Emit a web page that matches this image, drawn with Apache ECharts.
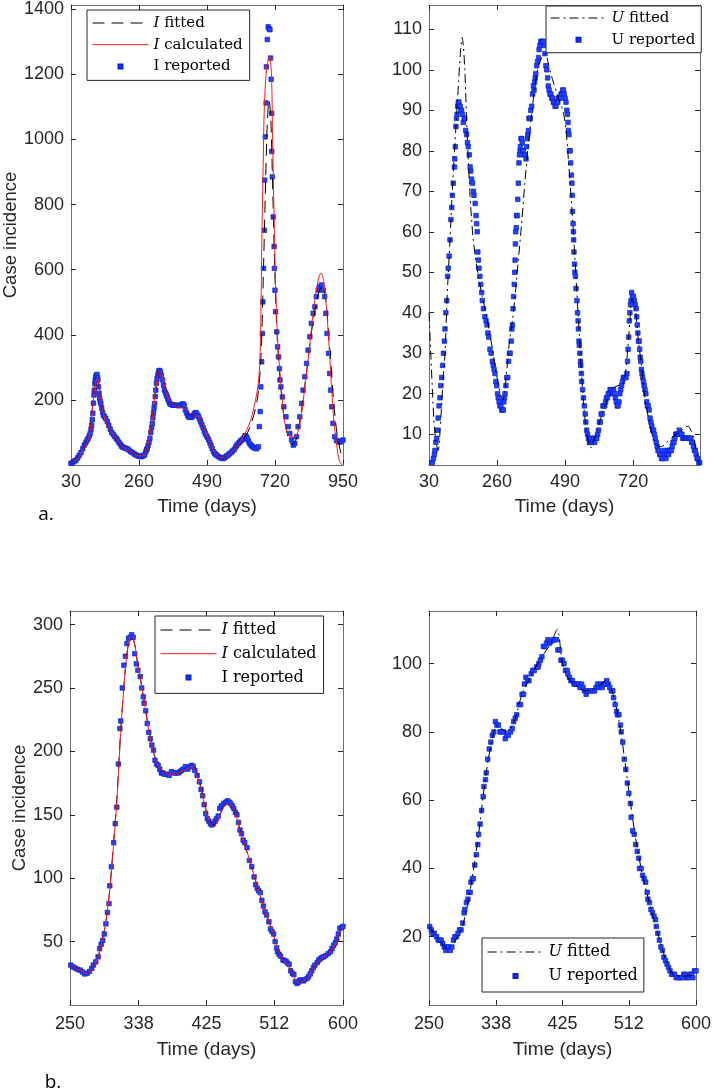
<!DOCTYPE html>
<html>
<head>
<meta charset="utf-8">
<script src="https://cdn.jsdelivr.net/npm/echarts@6/dist/echarts.min.js"></script>
<style>
  html, body { margin: 0; padding: 0; background: #fff; }
  #chart { width: 714px; height: 1092px; }
</style>
</head>
<body>
<div id="chart"></div>
<script>
// ---- data: [day, cases] ----
// panel a (left): infected
const aIReported = [[30,5],[36,8],[42,12],[47,15],[53,22],[58,30],[64,38],[70,50],[75,61],[80,68],[84,75],[88,82],[92,90],[95,97],[98,110],[100,123],[102,140],[104,159],[106,190],[108,215],[109,230],[111,250],[112,261],[114,270],[116,276],[118,278],[120,268],[121,261],[123,240],[125,220],[127,205],[129,195],[131,189],[134,175],[137,162],[140,152],[144,148],[148,142],[153,133],[158,122],[163,110],[168,100],[173,94],[178,88],[183,82],[187,77],[192,70],[197,64],[201,58],[205,55],[210,53],[215,51],[220,50],[226,46],[232,41],[238,38],[244,34],[249,31],[254,29],[260,27],[265,26],[270,26],[275,29],[279,31],[283,40],[286,47],[288,51],[291,60],[294,70],[297,82],[300,100],[303,115],[305,128],[307,145],[309,160],[311,175],[313,189],[315,210],[317,230],[319,251],[321,265],[324,276],[326,283],[328,290],[330,290],[333,286],[336,275],[340,261],[343,245],[346,230],[350,222],[353,215],[355,210],[358,203],[361,196],[364,189],[368,186],[373,184],[378,184],[383,184],[389,183],[395,182],[400,184],[405,186],[409,188],[413,183],[417,169],[421,160],[425,152],[428,148],[432,147],[436,146],[440,148],[444,153],[448,158],[451,161],[455,159],[459,153],[462,148],[466,140],[469,132],[473,123],[477,114],[481,105],[484,97],[488,90],[492,84],[496,77],[500,68],[504,59],[508,50],[512,41],[516,36],[520,32],[524,29],[529,26],[534,23],[539,21],[544,20],[549,22],[553,25],[557,28],[562,31],[567,35],[572,39],[577,43],[582,48],[587,55],[591,61],[596,66],[600,70],[604,74],[608,77],[612,80],[616,84],[619,90],[623,87],[626,82],[630,74],[634,66],[639,61],[643,57],[647,54],[653,51],[658,50],[664,56],[667,118],[670,164],[672,240],[675,317],[677,404],[679,501],[681,604],[684,721],[685,875],[687,1008],[690,1112],[691,1223],[694,1307],[697,1346],[700,1340],[703,1337],[705,1250],[707,1185],[709,1080],[709,963],[711,885],[714,762],[717,671],[718,604],[720,537],[722,471],[726,409],[729,363],[732,332],[735,296],[737,261],[740,240],[745,209],[750,179],[757,148],[765,118],[770,97],[776,77],[782,61],[787,66],[793,87],[798,118],[804,148],[810,189],[815,230],[821,271],[827,312],[832,353],[838,394],[843,435],[849,466],[855,486],[860,517],[866,537],[871,547],[877,553],[883,537],[888,517],[892,466],[896,404],[901,343],[905,281],[908,230],[912,179],[916,128],[922,87],[928,75],[934,72],[940,70],[946,74],[950,77]];
const aICalculated = [[30,5],[60,30],[90,85],[105,190],[113,255],[120,265],[130,205],[145,140],[160,110],[180,85],[200,60],[230,42],[260,28],[275,30],[290,60],[300,110],[310,180],[320,255],[330,288],[340,270],[350,230],[365,195],[390,180],[415,172],[430,160],[445,150],[460,150],[475,125],[495,80],[515,40],[540,22],[560,28],[590,55],[613,87],[636,133],[653,194],[664,255],[670,348],[673,506],[676,712],[680,917],[684,1100],[692,1223],[701,1254],[708,1203],[712,998],[717,762],[722,557],[728,404],[735,302],[743,220],[750,148],[759,107],[770,87],[787,87],[799,107],[810,158],[821,240],[832,322],[844,425],[855,506],[866,568],[875,590],[885,563],[894,486],[903,363],[911,240],[919,138],[928,66],[937,15],[946,0]];
const aIFitted = [[30,5],[60,32],[90,88],[105,195],[115,262],[122,258],[132,195],[145,140],[160,108],[180,83],[200,60],[230,42],[260,28],[275,30],[290,58],[300,108],[310,178],[320,252],[330,287],[340,270],[350,230],[365,196],[390,181],[415,172],[430,158],[445,150],[460,150],[475,124],[495,80],[515,40],[540,22],[560,28],[590,55],[620,88],[640,128],[660,200],[672,320],[680,560],[688,860],[694,1050],[700,1120],[706,1060],[712,860],[718,640],[726,420],[735,290],[748,165],[762,95],[778,62],[792,80],[810,170],[830,310],[850,450],[868,530],[880,550],[892,505],[905,360],[918,200],[930,95],[942,40],[948,20]];

// panel a (right): U
const aUReported = [[41,3],[45,4],[48,5],[50,6],[53,8],[56,9],[58,11],[61,14],[64,17],[67,19],[70,22],[73,24],[76,27],[79,30],[82,33],[84,36],[87,40],[90,43],[93,49],[95,51],[98,54],[101,58],[104,63],[107,66],[109,69],[112,72],[116,76],[117,78],[119,81],[121,86],[123,88],[125,89],[127,91],[129,92],[131,92],[133,91],[135,91],[138,90],[140,90],[143,89],[146,87],[149,88],[151,88],[154,85],[157,84],[160,82],[163,81],[166,79],[169,76],[171,75],[174,73],[177,72],[180,70],[182,69],[186,67],[189,64],[191,62],[193,60],[195,55],[197,53],[199,51],[202,49],[205,47],[208,45],[210,43],[214,41],[219,39],[223,38],[226,37],[229,35],[232,34],[236,31],[240,30],[244,28],[247,27],[250,26],[253,25],[256,23],[259,22],[262,20],[264,19],[267,18],[270,17],[273,17],[276,16],[279,16],[281,16],[283,18],[285,19],[287,20],[290,22],[293,24],[296,24],[299,28],[302,30],[304,30],[308,33],[310,36],[312,37],[314,41],[316,44],[318,47],[320,50],[321,53],[322,57],[323,60],[325,61],[326,64],[328,64],[330,68],[332,72],[334,77],[336,79],[338,80],[339,81],[341,83],[343,83],[345,82],[347,80],[349,80],[352,79],[355,79],[358,78],[360,81],[362,83],[364,84],[366,85],[368,88],[370,88],[372,88],[374,90],[377,91],[380,94],[383,96],[385,95],[387,97],[389,98],[391,99],[394,101],[397,102],[400,103],[402,105],[405,106],[408,107],[411,107],[414,107],[417,107],[420,106],[422,104],[425,101],[428,100],[431,98],[433,96],[436,95],[439,94],[442,94],[445,93],[448,93],[450,92],[453,92],[456,91],[459,91],[462,92],[465,92],[467,93],[470,93],[473,93],[476,94],[479,94],[482,95],[484,95],[487,94],[490,93],[493,92],[496,90],[498,89],[500,87],[501,85],[503,84],[505,80],[507,80],[509,77],[511,74],[513,72],[514,69],[515,65],[517,62],[518,60],[519,58],[520,55],[522,52],[523,50],[525,49],[527,46],[530,43],[532,40],[534,38],[535,36],[537,33],[538,32],[540,30],[542,28],[543,27],[545,25],[546,23],[549,21],[552,19],[555,17],[558,15],[560,13],[563,11],[566,10],[569,9],[572,8],[575,8],[578,9],[581,8],[584,8],[587,9],[590,8],[593,9],[597,9],[600,10],[603,11],[606,13],[609,13],[612,15],[615,15],[618,17],[621,17],[624,17],[627,18],[630,19],[633,19],[636,20],[639,20],[642,21],[645,21],[648,21],[651,20],[654,21],[657,20],[660,19],[663,18],[666,17],[669,17],[672,18],[675,20],[678,21],[681,22],[684,23],[687,24],[690,24],[693,24],[696,24],[699,25],[701,28],[703,31],[705,34],[707,38],[709,40],[711,42],[713,43],[715,45],[718,44],[721,44],[724,43],[727,42],[730,41],[732,39],[734,37],[736,35],[738,33],[740,33],[742,31],[744,29],[746,28],[748,26],[750,25],[752,24],[755,23],[757,22],[760,21],[763,20],[766,18],[768,17],[771,17],[774,16],[777,14],[780,13],[783,12],[786,11],[789,11],[792,10],[795,9],[798,8],[801,7],[804,6],[807,6],[810,5],[813,5],[816,4],[819,4],[822,5],[825,6],[828,5],[831,4],[834,5],[837,6],[840,5],[843,6],[846,6],[849,6],[852,7],[855,8],[858,8],[861,9],[864,10],[867,10],[870,10],[873,10],[876,11],[879,10],[882,10],[885,10],[888,9],[891,9],[894,9],[897,9],[900,9],[903,9],[906,9],[909,9],[912,9],[915,9],[918,8],[921,8],[924,7],[927,6],[930,6],[933,5],[936,4],[939,4],[942,3],[945,3]];
const aUFitted = [[30,40],[36,30],[42,20],[48,12],[54,8],[61,6],[70,14],[78,24],[84,30],[92,45],[101,58],[110,72],[118,82],[125,91],[130,97],[136,104],[142,108],[146,106],[151,100],[156,90],[160,82],[164,76],[168,70],[174,63],[179,58.5],[188,53],[197,49],[210,44],[225,39],[240,33],[253,27],[265,22],[275,19],[280,18.5],[286,20.5],[293,26],[302,33],[312,38],[322,45],[332,53],[343,62],[354,72],[365,81],[377,89],[388,96],[400,101],[412,103],[424,104],[432,102],[439,99.8],[450,97],[461,94.5],[472,92],[484,89.6],[493,85],[501,78],[507,72],[512,66.7],[518,60],[523,53.5],[529,46],[534,39.6],[540,32],[545,25.6],[551,19],[557,14],[563,10.5],[568,8.4],[574,7],[579,6.7],[586,8],[596,10.6],[607,13],[619,16],[630,18],[642,20],[655,21.5],[669,22],[686,22.4],[694,25],[700,29.5],[706,35],[711,40],[715,43.5],[720,43],[726,41],[731,38.6],[738,33],[748,27],[758,20],[770,14.7],[781,11],[793,8],[805,7],[816,7],[828,7.5],[840,8.5],[850,9],[865,10],[878,10.5],[892,11.5],[906,12],[915,11],[923,9.5],[932,6.5],[940,3.8],[945,2.5]];

// panel b (left): infected, zoomed 250-600
const bIReported = [[251,31.5],[254,30],[257,29],[260,28],[263,27.5],[266,26],[269,24.5],[272,25],[275,26.5],[278,29],[280,31.5],[283,34],[286,38],[288,44.5],[290,48],[292,51],[294,56],[296,64],[298,73],[300,80],[301,94],[303,109],[306,128],[308,143],[310,156],[312,190],[314,218],[315,224],[317,250],[319,268],[321,275],[323,285],[325,289],[327,290],[329,292],[331,290],[333,277],[335,269],[337,264],[340,259],[342,250],[344,243],[345,238],[347,232],[349,222],[351,215],[353,210],[355,205],[357,201],[359,193],[361,190],[363,189],[365,186],[367,183],[369,183],[371,182],[374,182],[377,181],[380,184],[383,183],[386,183],[389,183],[391,184],[393,185],[395,186],[398,188],[401,186],[404,188],[406,189],[408,188],[410,185],[413,181],[416,176],[418,170],[420,165],[422,158],[424,151],[426,147],[428,145],[430,143],[432,142],[434,143],[436,145],[438,147],[440,149],[442,155],[444,157],[447,159],[450,160],[452,161],[454,160],[456,159],[458,157],[460,155],[462,152],[464,150],[466,144],[468,138],[470,135],[472,130],[474,128],[477,124],[480,114],[483,109],[486,101],[488,95],[490,92],[492,90],[494,88.6],[496,82.5],[498,78],[500,73.5],[502,71],[505,65.6],[507,60],[509,58],[511,56],[513,50],[515,45],[516,42],[518,40],[520,38.5],[523,35.5],[525,35],[527,34.5],[529,33],[531,32],[533,27],[535,25],[537,24],[539,18.5],[541,17],[543,18],[545,19.7],[547,19.5],[549,19],[551,20],[554,21],[556,22.5],[558,24.5],[560,27],[562,29.5],[564,31.5],[567,33.5],[569,35.5],[571,36.5],[573,37.5],[575,38],[578,39],[581,40.5],[584,42],[586,44.5],[588,47],[590,49],[592,52],[594,56],[596,60.5],[598,61],[600,62]];
const bICalculated = [[250,31],[258,29],[265,27],[272,25],[280,30],[286,38],[290,48],[295,62],[300,85],[305,120],[310,160],[315,215],[320,258],[324,282],[328,291],[332,287],[336,272],[340,258],[345,240],[350,220],[355,205],[360,193],[365,187],[372,183],[380,182],[390,183],[400,186],[407,188],[412,183],[418,170],[424,154],[430,143],[434,141],[440,147],[446,155],[452,159],[458,157],[463,150],[468,137],[474,126],[480,115],[486,102],[492,90],[498,78],[505,66],[510,57],[515,47],[520,39],[525,35],[530,31],[535,25],[540,19],[545,18],[550,19],[556,22],[563,30],[570,35],[578,39],[585,43],[590,48],[595,55],[600,62]];
const bIFitted = [[250,31],[258,29],[265,27],[272,25],[280,30],[286,38],[290,48],[295,62],[300,85],[305,121],[310,162],[315,216],[320,258],[324,281],[328,290],[332,287],[336,272],[340,258],[345,240],[350,221],[355,205],[360,193],[365,187],[372,183],[380,182],[390,183],[400,186],[407,188],[412,184],[418,171],[424,155],[430,144],[434,142],[440,147],[446,155],[452,159],[458,157],[463,150],[468,138],[474,126],[480,115],[486,102],[492,90],[498,78],[505,66],[510,57],[515,47],[520,39],[525,35],[530,31],[535,25],[540,19],[545,18],[550,19],[556,22],[563,30],[570,35],[578,39],[585,43],[590,48],[595,55],[600,62]];

// panel b (right): U, zoomed 250-600
const bUReported = [[251,23],[253,22],[255,21],[257,21],[260,20],[262,19],[264,19],[266,19],[268,18],[270,17],[272,16],[274,17],[276,17],[278,16],[280,17],[282,19],[284,20],[286,20],[288,21],[290,22],[292,22],[294,24],[296,27],[297,28],[299,30],[301,31],[302,33],[304,33],[305,36],[307,37],[308,37],[310,41],[312,44],[314,47],[315,50],[317,53],[319,57],[321,61],[322,64],[324,66],[325,68],[327,72],[329,75],[331,77],[333,79],[335,80],[337,83],[339,82],[341,82],[343,80],[345,80],[348,80],[350,78],[352,79],[354,79],[357,80],[359,81],[361,83],[363,84],[365,85],[368,88],[370,88],[372,91],[374,91],[375,94],[377,96],[379,95],[381,95],[384,97],[386,98],[388,98],[391,99],[393,99],[394,100],[396,101],[398,102],[400,105],[402,105],[404,106],[406,107],[408,106],[410,106.5],[413,107],[415,107],[417,107],[419,104],[421,104],[423,101],[425,101],[427,100],[429,98],[431,98],[432,97],[434,96],[436,95],[438,95],[440,94],[442,94],[444,94],[446,94],[448,93],[450,94],[452,93],[454,92],[456,91],[458,92],[461,92],[464,92],[467,92],[469,93],[471,94],[473,93],[475,94],[477,93],[479,94],[481,94],[483,95],[485,94],[487,93],[489,92],[491,92],[492,90],[494,88],[496,86],[497,85],[499,85],[501,82],[502,80],[504,77],[506,72],[508,69],[510,65],[512,62],[514,59],[515,55],[517,51],[519,50],[521,47],[523,45],[525,43],[526,40],[528,40],[530,38],[532,37],[534,36],[536,33],[537,31],[539,30],[541,28],[543,27],[545,26],[547,25],[548,23],[550,21],[552,19],[554,17],[556,16],[558,14],[560,13],[562,12],[564,11],[566,10],[568,9],[570,9],[572,9],[574,8],[577,8],[580,8],[582,8],[584,9],[586,9],[588,8],[590,8],[592,9],[594,9],[596,8],[598,10],[600,10]];
const bUFitted = [[250,23],[262,19.5],[274,16.5],[285,19],[295,24],[305,35],[315,50],[325,68],[335,80],[341,82],[350,80],[360,82],[372,91],[385,97],[398,102],[410,106],[418,110],[425,100],[432,96],[440,94],[455,92],[470,93],[482,95],[490,92],[500,82],[510,66],[520,50],[530,38],[540,29],[550,21],[560,13.5],[570,9],[580,8.5],[590,8.5],[600,9]];

// tick labels
const aLeftXTicks = [30, 260, 490, 720, 950];
const aLeftYTicks = [200, 400, 600, 800, 1000, 1200, 1400];
const aRightXTicks = [30, 260, 490, 720];
const aRightYTicks = [10, 20, 30, 40, 50, 60, 70, 80, 90, 100, 110];
const bXTicks = [250, 338, 425, 512, 600];
const bLeftYTicks = [50, 100, 150, 200, 250, 300];
const bRightYTicks = [20, 40, 60, 80, 100];

const axisColor = '#262626';
const boxColor = '#6e6e6e';
const sans = 'Arial, Helvetica, sans-serif';
const serif = 'DejaVu Serif, serif';
const plain = v => String(v);
const tickSize = 18;
const nameSize = 19;

function xPair(g, min, max, ticks, nameGap, margin) {
  const line = {show: true, onZero: false, lineStyle: {color: boxColor, width: 1}};
  const tick = {show: true, inside: true, length: 5, customValues: ticks, lineStyle: {color: axisColor}};
  return [
    {gridIndex: g, type: 'value', min: min, max: max, position: 'bottom',
     name: 'Time (days)', nameLocation: 'middle', nameGap: nameGap,
     nameTextStyle: {fontFamily: sans, fontSize: nameSize, color: axisColor},
     axisLine: line, axisTick: tick, splitLine: {show: false},
     axisLabel: {customValues: ticks, formatter: plain, margin: margin, fontFamily: sans, fontSize: tickSize, color: axisColor}},
    {gridIndex: g, type: 'value', min: min, max: max, position: 'top',
     axisLine: line, axisTick: tick, splitLine: {show: false}, axisLabel: {show: false}}
  ];
}

function yPair(g, min, max, ticks, name, nameGap) {
  const line = {show: true, onZero: false, lineStyle: {color: boxColor, width: 1}};
  const tick = {show: true, inside: true, length: 5, customValues: ticks, lineStyle: {color: axisColor}};
  return [
    {gridIndex: g, type: 'value', min: min, max: max, position: 'left',
     name: name, nameLocation: 'middle', nameGap: nameGap,
     nameTextStyle: {fontFamily: sans, fontSize: 18.5, color: axisColor},
     axisLine: line, axisTick: tick, splitLine: {show: false},
     axisLabel: {customValues: ticks, formatter: plain, margin: 7, fontFamily: sans, fontSize: tickSize, color: axisColor}},
    {gridIndex: g, type: 'value', min: min, max: max, position: 'right',
     axisLine: line, axisTick: tick, splitLine: {show: false}, axisLabel: {show: false}}
  ];
}

const legendLabels = {
  aIF: '{i|I} fitted', aIC: '{i|I} calculated', aIR: 'I reported',
  aUF: '{i|U} fitted', aUR: 'U reported',
  bIF: '{i|I} fitted', bIC: '{i|I} calculated', bIR: 'I reported',
  bUF: '{i|U} fitted', bUR: 'U reported'
};
const dotIcon = 'path://M0,0M14,14M5,5h4v4h-4z';

function legend(names, left, top, gap, pad, size) {
  return {
    orient: 'vertical', left: left, top: top, itemGap: gap, padding: pad,
    itemWidth: 56, itemHeight: 14,
    borderColor: axisColor, borderWidth: 1, backgroundColor: '#fff',
    selectedMode: false,
    lineStyle: {width: 1},
    data: names.map(n => n.endsWith('R') ? {name: n, icon: dotIcon} : {name: n, itemStyle: {opacity: 0}}),
    formatter: n => legendLabels[n],
    textStyle: {fontFamily: serif, fontSize: size, color: '#000', lineHeight: 16,
      rich: {i: {fontFamily: serif, fontSize: size, fontStyle: 'italic', color: '#000', lineHeight: 16}}}
  };
}

const dashed = [12, 7];
const dashDot = [9, 4, 2, 4];
const blue = '#2243ff';

function lineS(name, g, data, color, type) {
  return {name: name, type: 'line', xAxisIndex: 2 * g, yAxisIndex: 2 * g, data: data,
    showSymbol: false, symbol: 'none', smooth: 0.3, clip: true,
    lineStyle: {color: color, width: 1, type: type}, itemStyle: {color: color}};
}
function dotS(name, g, data) {
  return {name: name, type: 'scatter', xAxisIndex: 2 * g, yAxisIndex: 2 * g, data: data,
    symbol: 'rect', symbolSize: 4.5,
    itemStyle: {color: blue, borderColor: '#0a1fd6', borderWidth: 0.7, opacity: 1}};
}

const chart = echarts.init(document.getElementById('chart'), null, {renderer: 'canvas'});
chart.setOption({
  animation: false,
  backgroundColor: '#fff',
  grid: [
    {left: 70, top: 5, width: 273, height: 460},
    {left: 429, top: 5, width: 271, height: 460},
    {left: 70, top: 611, width: 273, height: 394},
    {left: 429, top: 611, width: 270, height: 394}
  ],
  xAxis: [].concat(
    xPair(0, 30, 950, aLeftXTicks, 32, 8),
    xPair(1, 30, 946, aRightXTicks, 32, 8),
    xPair(2, 250, 600, bXTicks, 35, 10),
    xPair(3, 250, 600, bXTicks, 35, 10)
  ),
  yAxis: [].concat(
    yPair(0, 0, 1413, aLeftYTicks, 'Case incidence', 49),
    yPair(1, 2.4, 116, aRightYTicks, '', 0),
    yPair(2, 0, 310.7, bLeftYTicks, 'Case incidence', 38),
    yPair(3, 0, 115.4, bRightYTicks, '', 0)
  ),
  legend: [
    legend(['aIF', 'aIC', 'aIR'], 87, 10, 5.7, [5, 7, 6, 5], 15),
    legend(['aUF', 'aUR'], 546, 6, 5.7, [4, 6, 5, 4], 15),
    legend(['bIF', 'bIC', 'bIR'], 155, 616, 7.7, [6, 7, 8, 5], 16),
    legend(['bUF', 'bUR'], 482, 938, 8, [6, 6, 8, 5], 16)
  ],
  graphic: [
    {type: 'text', x: 46, y: 515, style: {text: 'a.', fontFamily: 'Open Sans, sans-serif', fontSize: 19, fill: '#000', align: 'center', verticalAlign: 'middle'}},
    {type: 'text', x: 53, y: 1083, style: {text: 'b.', fontFamily: 'Open Sans, sans-serif', fontSize: 19, fill: '#000', align: 'center', verticalAlign: 'middle'}}
  ],
  series: [
    lineS('aIF', 0, aIFitted, '#000', dashed),
    lineS('aIC', 0, aICalculated, '#ff1a1a', 'solid'),
    dotS('aIR', 0, aIReported),
    lineS('aUF', 1, aUFitted, '#000', dashDot),
    dotS('aUR', 1, aUReported),
    lineS('bIF', 2, bIFitted, '#000', dashed),
    lineS('bIC', 2, bICalculated, '#ff1a1a', 'solid'),
    dotS('bIR', 2, bIReported),
    lineS('bUF', 3, bUFitted, '#000', dashDot),
    dotS('bUR', 3, bUReported)
  ]
});
</script>
</body>
</html>
